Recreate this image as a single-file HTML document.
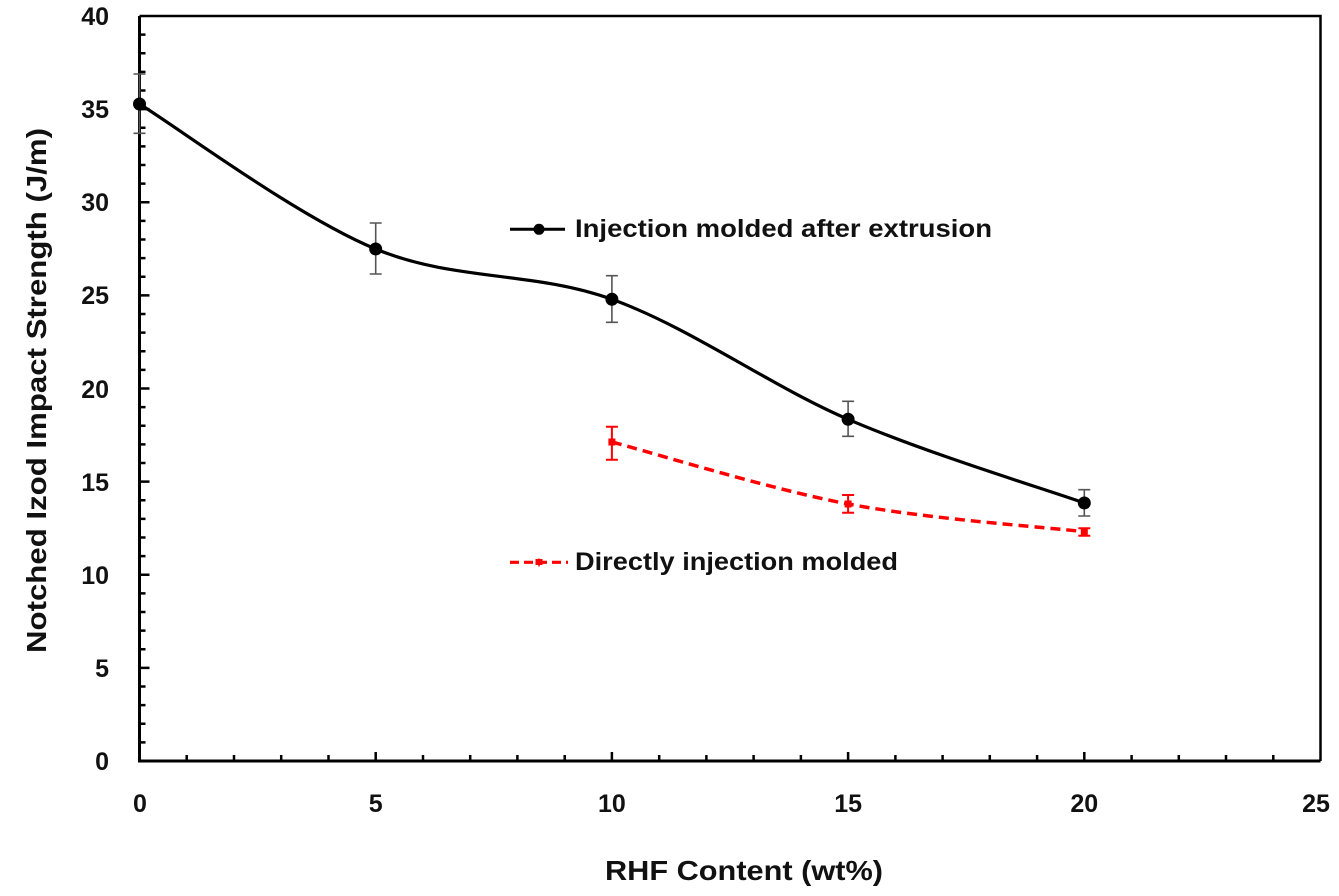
<!DOCTYPE html>
<html>
<head>
<meta charset="utf-8">
<style>
  html, body { margin:0; padding:0; background:#fff; }
  svg { display:block; }
  text { font-family:"Liberation Sans", sans-serif; font-weight:bold; fill:#111; }
</style>
</head>
<body>
<svg width="1339" height="896" viewBox="0 0 1339 896" xmlns="http://www.w3.org/2000/svg">
  <rect x="0" y="0" width="1339" height="896" fill="#fff"/>

  <!-- plot frame -->
  <path d="M139.5,16 H1320.5 V761" fill="none" stroke="#000" stroke-width="2.5"/>
  <path d="M139.5,16 V761 H1320.5" fill="none" stroke="#000" stroke-width="3"/>

  <!-- y ticks -->
  <g stroke="#000" stroke-width="2.5">
    <path d="M139.5,742.4h6 M139.5,723.8h6 M139.5,705.1h6 M139.5,686.5h6
             M139.5,649.3h6 M139.5,630.6h6 M139.5,612h6 M139.5,593.4h6
             M139.5,556.1h6 M139.5,537.5h6 M139.5,518.9h6 M139.5,500.3h6
             M139.5,463h6 M139.5,444.4h6 M139.5,425.8h6 M139.5,407.1h6
             M139.5,369.9h6 M139.5,351.3h6 M139.5,332.6h6 M139.5,314h6
             M139.5,276.8h6 M139.5,258.1h6 M139.5,239.5h6 M139.5,220.9h6
             M139.5,183.6h6 M139.5,165h6 M139.5,146.4h6 M139.5,127.8h6
             M139.5,90.5h6 M139.5,71.9h6 M139.5,53.3h6 M139.5,34.6h6"/>
    <path d="M139.5,667.9h10 M139.5,574.8h10 M139.5,481.6h10 M139.5,388.5h10
             M139.5,295.4h10 M139.5,202.3h10 M139.5,109.1h10"/>
  </g>

  <!-- x ticks -->
  <g stroke="#000" stroke-width="2.5">
    <path d="M186.7,761v-6 M234,761v-6 M281.2,761v-6 M328.5,761v-6
             M423,761v-6 M470.2,761v-6 M517.4,761v-6 M564.7,761v-6
             M659.2,761v-6 M706.4,761v-6 M753.6,761v-6 M800.9,761v-6
             M895.4,761v-6 M942.6,761v-6 M989.8,761v-6 M1037.1,761v-6
             M1131.6,761v-6 M1178.8,761v-6 M1226,761v-6 M1273.3,761v-6"/>
    <path d="M375.7,761v-9 M611.9,761v-9 M848.1,761v-9 M1084.3,761v-9"/>
  </g>

  <!-- y tick labels -->
  <g font-size="25" text-anchor="end">
    <text x="109" y="770">0</text>
    <text x="109" y="677">5</text>
    <text x="109" y="584">10</text>
    <text x="109" y="491">15</text>
    <text x="109" y="398">20</text>
    <text x="109" y="304">25</text>
    <text x="109" y="211">30</text>
    <text x="109" y="118">35</text>
    <text x="109" y="25">40</text>
  </g>

  <!-- x tick labels -->
  <g font-size="25" text-anchor="middle">
    <text x="140" y="812">0</text>
    <text x="375.7" y="812">5</text>
    <text x="611.9" y="812">10</text>
    <text x="848.1" y="812">15</text>
    <text x="1084.3" y="812">20</text>
    <text x="1316" y="812">25</text>
  </g>

  <!-- axis titles -->
  <text x="605" y="880" font-size="28" textLength="278" lengthAdjust="spacingAndGlyphs">RHF Content (wt%)</text>
  <text transform="translate(46,653) rotate(-90)" font-size="28" textLength="525" lengthAdjust="spacingAndGlyphs">Notched Izod Impact Strength (J/m)</text>

  <!-- error bars black series -->
  <g stroke="#555" stroke-width="1.6" fill="none">
    <path d="M139.5,74V133.3 M133.5,74h12 M133.5,133.3h12"/>
    <path d="M375.7,223V274 M369.7,223h12 M369.7,274h12"/>
    <path d="M611.9,275.7V322.3 M605.9,275.7h12 M605.9,322.3h12"/>
    <path d="M848.1,401.3V436.3 M842.1,401.3h12 M842.1,436.3h12"/>
    <path d="M1084.3,489.7V516 M1078.3,489.7h12 M1078.3,516h12"/>
  </g>

  <!-- black smoothed curve -->
  <path d="M139.5,104 C178.9,128.2 297,216.45 375.7,249 C454.4,281.55 533.2,270.9 611.9,299.3 C690.6,327.7 769.4,385.35 848.1,419.3 C926.8,453.25 1044.9,489.05 1084.3,503"
        fill="none" stroke="#000" stroke-width="3.2"/>
  <g fill="#000">
    <circle cx="139.5" cy="104" r="6.5"/>
    <circle cx="375.7" cy="249" r="6.5"/>
    <circle cx="611.9" cy="299.3" r="6.5"/>
    <circle cx="848.1" cy="419.3" r="6.5"/>
    <circle cx="1084.3" cy="503" r="6.5"/>
  </g>

  <!-- red error bars -->
  <g stroke="#f00" stroke-width="2" fill="none">
    <path d="M611.9,426.7V459.7 M605.9,426.7h12 M605.9,459.7h12"/>
    <path d="M848.1,495V512.7 M842.1,495h12 M842.1,512.7h12"/>
    <path d="M1084.3,528.3V535.7 M1078.3,528.3h12 M1078.3,535.7h12"/>
  </g>

  <!-- red dashed curve -->
  <path d="M611.9,442 C651.3,452.3 769.4,489.05 848.1,504 C926.8,518.95 1044.9,527.1 1084.3,531.7"
        fill="none" stroke="#f00" stroke-width="3.5" stroke-dasharray="10,6"/>
  <g fill="#f00">
    <rect x="608.4" y="438.5" width="7" height="7"/>
    <rect x="844.6" y="500.5" width="7" height="7"/>
    <rect x="1080.8" y="528.2" width="7" height="7"/>
  </g>

  <!-- legend 1 -->
  <path d="M510,229.3H565" stroke="#000" stroke-width="3"/>
  <circle cx="539" cy="229.3" r="5.5" fill="#000"/>
  <text x="575" y="237" font-size="25" textLength="417" lengthAdjust="spacingAndGlyphs">Injection molded after extrusion</text>

  <!-- legend 2 -->
  <path d="M510,562.3H568" stroke="#f00" stroke-width="3.2" stroke-dasharray="9,5"/>
  <rect x="535.5" y="559" width="7" height="6" fill="#f00"/>
  <path d="M539,558.5v8" stroke="#f00" stroke-width="1.5"/>
  <text x="575" y="570" font-size="25" textLength="323" lengthAdjust="spacingAndGlyphs">Directly injection molded</text>
</svg>
</body>
</html>
